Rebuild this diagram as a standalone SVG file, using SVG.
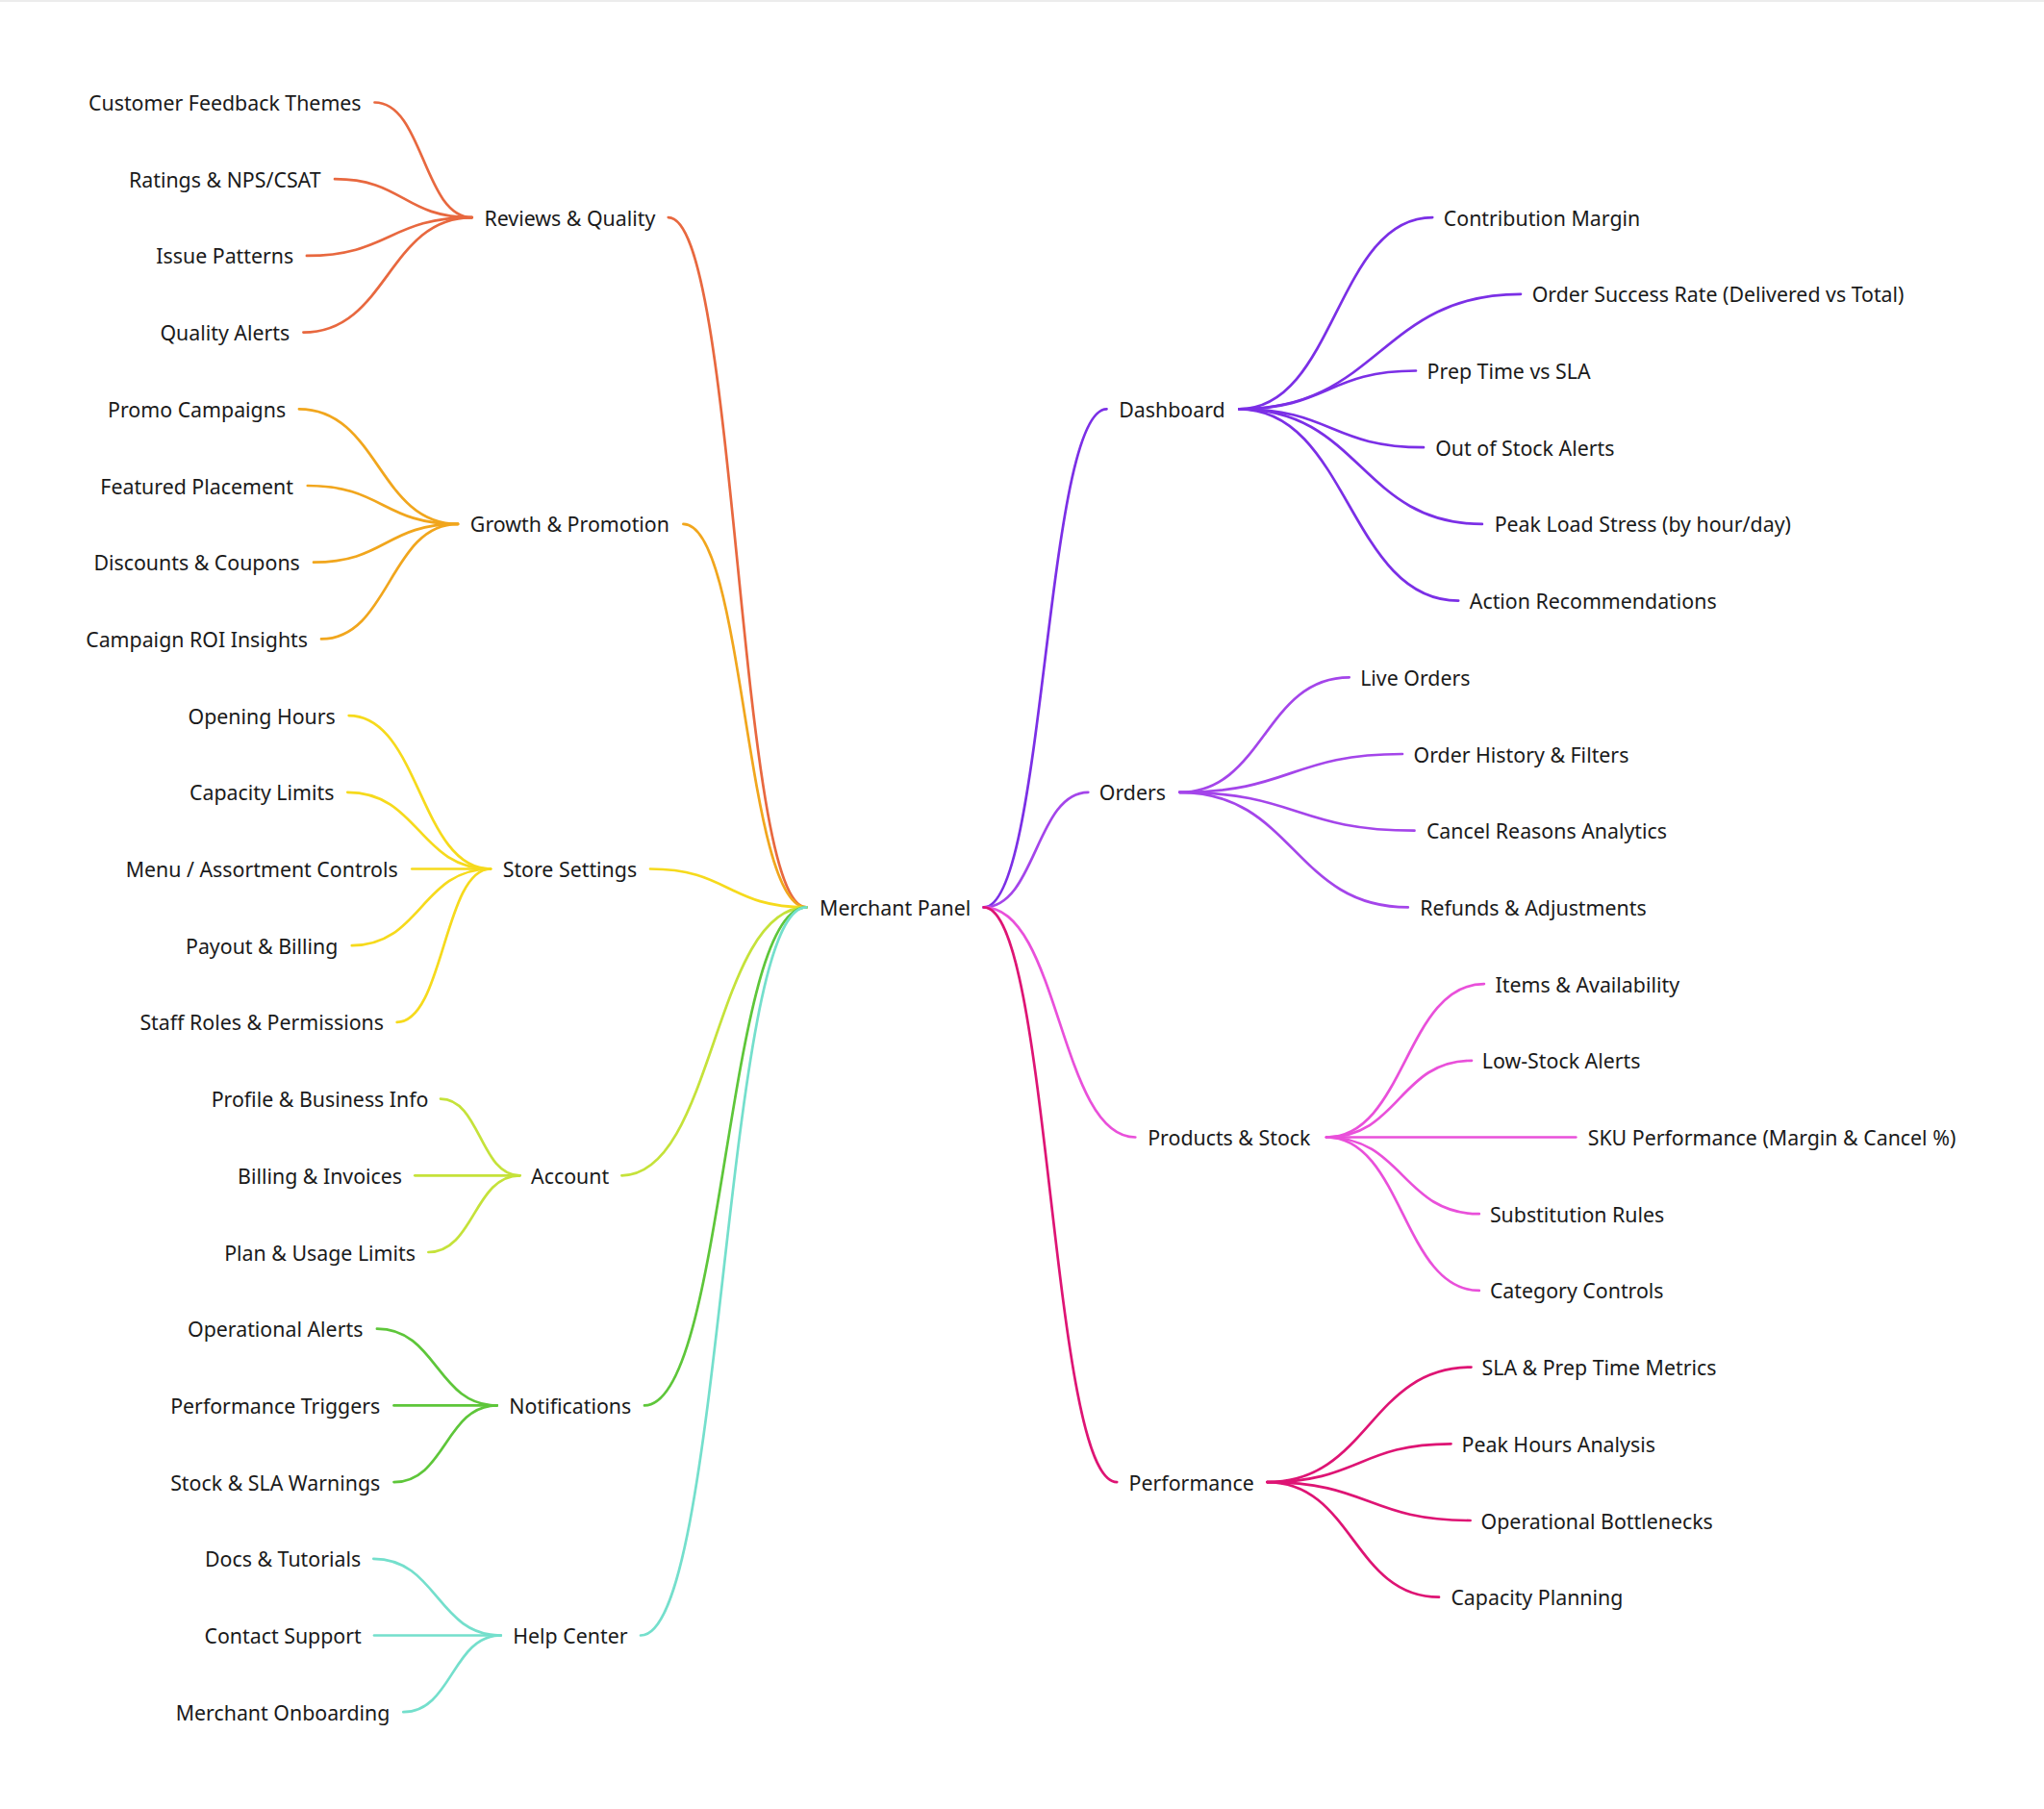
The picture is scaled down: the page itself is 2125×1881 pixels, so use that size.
<svg xmlns="http://www.w3.org/2000/svg" width="2125" height="1881" viewBox="0 0 2125 1881">
<style>
text{font-family:"Noto Sans","Open Sans","DejaVu Sans",sans-serif;font-size:21.33px;fill:#1a1a1a}
.l{text-anchor:middle}
.r{text-anchor:start}
path{fill:none;stroke-width:2.7;stroke-linecap:round}
.rev{stroke:#e8683f}.gro{stroke:#f1a61d}.sto{stroke:#f6da1c}.acc{stroke:#c5e23a}.not{stroke:#5ec63a}.hel{stroke:#74dfcc}
.das{stroke:#7b2fe6}.ord{stroke:#a445ea}.pro{stroke:#e950da}.per{stroke:#de1474}
</style>
<rect x="0" y="0" width="2125" height="2" fill="#ececec"/>
<g id="connectors">
<!-- root to left branches -->
<path class="rev" d="M694.8,226.1 C766.6,226.1 766.6,943.4 838.3,943.4"/>
<path class="gro" d="M710.4,544.9 C774.4,544.9 774.4,943.4 838.3,943.4"/>
<path class="sto" d="M676,903.5 C757.2,903.5 757.2,943.4 838.3,943.4"/>
<path class="acc" d="M646.4,1222.3 C742.4,1222.3 742.4,943.4 838.3,943.4"/>
<path class="not" d="M670,1461.4 C754.2,1461.4 754.2,943.4 838.3,943.4"/>
<path class="hel" d="M666,1700.5 C752.2,1700.5 752.2,943.4 838.3,943.4"/>
<!-- root to right branches -->
<path class="das" d="M1022.7,943.4 C1086.6,943.4 1086.6,425.3 1150.5,425.3"/>
<path class="ord" d="M1022.7,943.4 C1077,943.4 1077,823.8 1131.3,823.8"/>
<path class="pro" d="M1022.7,943.4 C1101.5,943.4 1101.5,1182.5 1180.3,1182.5"/>
<path class="per" d="M1022.7,943.4 C1092,943.4 1092,1541.1 1161.2,1541.1"/>
<!-- Reviews & Quality -->
<path class="rev" d="M389.5,106.5 C440.2,106.5 440.2,226.1 490.8,226.1"/>
<path class="rev" d="M348,186.2 C419.4,186.2 419.4,226.1 490.8,226.1"/>
<path class="rev" d="M318.9,265.9 C404.9,265.9 404.9,226.1 490.8,226.1"/>
<path class="rev" d="M315.4,345.6 C403.1,345.6 403.1,226.1 490.8,226.1"/>
<!-- Growth & Promotion -->
<path class="gro" d="M310.9,425.3 C393.5,425.3 393.5,544.9 476,544.9"/>
<path class="gro" d="M319.8,505 C397.9,505 397.9,544.9 476,544.9"/>
<path class="gro" d="M326,584.7 C401,584.7 401,544.9 476,544.9"/>
<path class="gro" d="M334,664.4 C405,664.4 405,544.9 476,544.9"/>
<!-- Store Settings -->
<path class="sto" d="M362.7,744.1 C436.4,744.1 436.4,903.5 510,903.5"/>
<path class="sto" d="M361.3,823.8 C435.7,823.8 435.7,903.5 510,903.5"/>
<path class="sto" d="M428.3,903.5 L510,903.5"/>
<path class="sto" d="M365.8,983.2 C437.9,983.2 437.9,903.5 510,903.5"/>
<path class="sto" d="M412.7,1062.9 C461.4,1062.9 461.4,903.5 510,903.5"/>
<!-- Account -->
<path class="acc" d="M458,1142.6 C499.2,1142.6 499.2,1222.3 540.4,1222.3"/>
<path class="acc" d="M431.3,1222.3 L540.4,1222.3"/>
<path class="acc" d="M445.4,1302 C492.9,1302 492.9,1222.3 540.4,1222.3"/>
<!-- Notifications -->
<path class="not" d="M391.9,1381.7 C454.3,1381.7 454.3,1461.4 516.6,1461.4"/>
<path class="not" d="M409.5,1461.4 L516.6,1461.4"/>
<path class="not" d="M409.5,1541.1 C463.1,1541.1 463.1,1461.4 516.6,1461.4"/>
<!-- Help Center -->
<path class="hel" d="M388.3,1620.8 C454.5,1620.8 454.5,1700.5 520.7,1700.5"/>
<path class="hel" d="M389,1700.5 L520.7,1700.5"/>
<path class="hel" d="M419.3,1780.2 C470,1780.2 470,1700.5 520.7,1700.5"/>
<!-- Dashboard -->
<path class="das" d="M1288.3,425.3 C1388.8,425.3 1388.8,226.1 1489.2,226.1"/>
<path class="das" d="M1288.3,425.3 C1434.7,425.3 1434.7,305.8 1581,305.8"/>
<path class="das" d="M1288.3,425.3 C1380.2,425.3 1380.2,385.5 1472,385.5"/>
<path class="das" d="M1288.3,425.3 C1384.2,425.3 1384.2,465.2 1480,465.2"/>
<path class="das" d="M1288.3,425.3 C1414.6,425.3 1414.6,544.9 1540.9,544.9"/>
<path class="das" d="M1288.3,425.3 C1402.3,425.3 1402.3,624.6 1516.2,624.6"/>
<!-- Orders -->
<path class="ord" d="M1226.3,823.8 C1314.5,823.8 1314.5,704.3 1402.7,704.3"/>
<path class="ord" d="M1226.3,823.8 C1342.2,823.8 1342.2,784 1458,784"/>
<path class="ord" d="M1226.3,823.8 C1348.4,823.8 1348.4,863.7 1470.5,863.7"/>
<path class="ord" d="M1226.3,823.8 C1345.1,823.8 1345.1,943.4 1463.8,943.4"/>
<!-- Products & Stock -->
<path class="pro" d="M1379,1182.5 C1461,1182.5 1461,1023.1 1542.9,1023.1"/>
<path class="pro" d="M1379,1182.5 C1454.5,1182.5 1454.5,1102.8 1530,1102.8"/>
<path class="pro" d="M1379,1182.5 L1638.3,1182.5"/>
<path class="pro" d="M1379,1182.5 C1458.4,1182.5 1458.4,1262.2 1537.8,1262.2"/>
<path class="pro" d="M1379,1182.5 C1458.4,1182.5 1458.4,1341.9 1537.8,1341.9"/>
<!-- Performance -->
<path class="per" d="M1317.4,1541.1 C1423.5,1541.1 1423.5,1421.6 1529.5,1421.6"/>
<path class="per" d="M1317.4,1541.1 C1413,1541.1 1413,1501.3 1508.5,1501.3"/>
<path class="per" d="M1317.4,1541.1 C1423,1541.1 1423,1581 1528.6,1581"/>
<path class="per" d="M1317.4,1541.1 C1406.7,1541.1 1406.7,1660.7 1496,1660.7"/>
</g>
<g id="root"><text class="l" x="930.7" y="951.9">Merchant Panel</text></g>
<g id="reviews-quality"><text class="l" x="592.4" y="234.6">Reviews &amp; Quality</text></g>
<g id="growth-promotion"><text class="l" x="592.4" y="553.4">Growth &amp; Promotion</text></g>
<g id="store-settings"><text class="l" x="592.4" y="912">Store Settings</text></g>
<g id="account"><text class="l" x="592.6" y="1230.8">Account</text></g>
<g id="notifications"><text class="l" x="592.8" y="1469.9">Notifications</text></g>
<g id="help-center"><text class="l" x="592.9" y="1709">Help Center</text></g>
<g id="n-customer-feedback"><text class="l" x="233.8" y="115">Customer Feedback Themes</text></g>
<g id="n-ratings"><text class="l" x="233.8" y="194.7">Ratings &amp; NPS/CSAT</text></g>
<g id="n-issue-patterns"><text class="l" x="233.8" y="274.4">Issue Patterns</text></g>
<g id="n-quality-alerts"><text class="l" x="233.8" y="354.1">Quality Alerts</text></g>
<g id="n-promo"><text class="l" x="204.6" y="433.8">Promo Campaigns</text></g>
<g id="n-featured"><text class="l" x="204.6" y="513.5">Featured Placement</text></g>
<g id="n-discounts"><text class="l" x="204.6" y="593.2">Discounts &amp; Coupons</text></g>
<g id="n-campaign-roi"><text class="l" x="204.6" y="672.9">Campaign ROI Insights</text></g>
<g id="n-opening-hours"><text class="l" x="272.2" y="752.6">Opening Hours</text></g>
<g id="n-capacity-limits"><text class="l" x="272.2" y="832.3">Capacity Limits</text></g>
<g id="n-menu"><text class="l" x="272.2" y="912">Menu / Assortment Controls</text></g>
<g id="n-payout"><text class="l" x="272.2" y="991.7">Payout &amp; Billing</text></g>
<g id="n-staff"><text class="l" x="272.2" y="1071.4">Staff Roles &amp; Permissions</text></g>
<g id="n-profile"><text class="l" x="332.6" y="1151.1">Profile &amp; Business Info</text></g>
<g id="n-billing"><text class="l" x="332.6" y="1230.8">Billing &amp; Invoices</text></g>
<g id="n-plan"><text class="l" x="332.6" y="1310.5">Plan &amp; Usage Limits</text></g>
<g id="n-op-alerts"><text class="l" x="286.2" y="1390.2">Operational Alerts</text></g>
<g id="n-perf-triggers"><text class="l" x="286.2" y="1469.9">Performance Triggers</text></g>
<g id="n-stock-sla"><text class="l" x="286.2" y="1549.6">Stock &amp; SLA Warnings</text></g>
<g id="n-docs"><text class="l" x="294.1" y="1629.3">Docs &amp; Tutorials</text></g>
<g id="n-contact"><text class="l" x="294.1" y="1709">Contact Support</text></g>
<g id="n-onboarding"><text class="l" x="294.1" y="1788.7">Merchant Onboarding</text></g>
<g id="dashboard"><text class="r" x="1163.3" y="433.8">Dashboard</text></g>
<g id="orders"><text class="r" x="1142.8" y="832.3">Orders</text></g>
<g id="products-stock"><text class="r" x="1193.2" y="1191">Products &amp; Stock</text></g>
<g id="performance"><text class="r" x="1173.6" y="1549.6">Performance</text></g>
<g id="n-contribution"><text class="r" x="1500.8" y="234.6">Contribution Margin</text></g>
<g id="n-order-success"><text class="r" x="1592.7" y="314.3">Order Success Rate (Delivered vs Total)</text></g>
<g id="n-prep-time"><text class="r" x="1483.6" y="394">Prep Time vs SLA</text></g>
<g id="n-out-of-stock"><text class="r" x="1492.2" y="473.7">Out of Stock Alerts</text></g>
<g id="n-peak-load"><text class="r" x="1553.7" y="553.4">Peak Load Stress (by hour/day)</text></g>
<g id="n-action"><text class="r" x="1527.8" y="633.1">Action Recommendations</text></g>
<g id="n-live-orders"><text class="r" x="1414.2" y="712.8">Live Orders</text></g>
<g id="n-order-history"><text class="r" x="1469.5" y="792.5">Order History &amp; Filters</text></g>
<g id="n-cancel-reasons"><text class="r" x="1482.9" y="872.2">Cancel Reasons Analytics</text></g>
<g id="n-refunds"><text class="r" x="1476.2" y="951.9">Refunds &amp; Adjustments</text></g>
<g id="n-items"><text class="r" x="1554.6" y="1031.6">Items &amp; Availability</text></g>
<g id="n-low-stock"><text class="r" x="1540.8" y="1111.3">Low-Stock Alerts</text></g>
<g id="n-sku"><text class="r" x="1650.7" y="1191">SKU Performance (Margin &amp; Cancel %)</text></g>
<g id="n-substitution"><text class="r" x="1548.9" y="1270.7">Substitution Rules</text></g>
<g id="n-category"><text class="r" x="1548.9" y="1350.4">Category Controls</text></g>
<g id="n-sla-prep"><text class="r" x="1540.5" y="1430.1">SLA &amp; Prep Time Metrics</text></g>
<g id="n-peak-hours"><text class="r" x="1519.5" y="1509.8">Peak Hours Analysis</text></g>
<g id="n-bottlenecks"><text class="r" x="1539.6" y="1589.5">Operational Bottlenecks</text></g>
<g id="n-capacity-planning"><text class="r" x="1508.4" y="1669.2">Capacity Planning</text></g>
</svg>
